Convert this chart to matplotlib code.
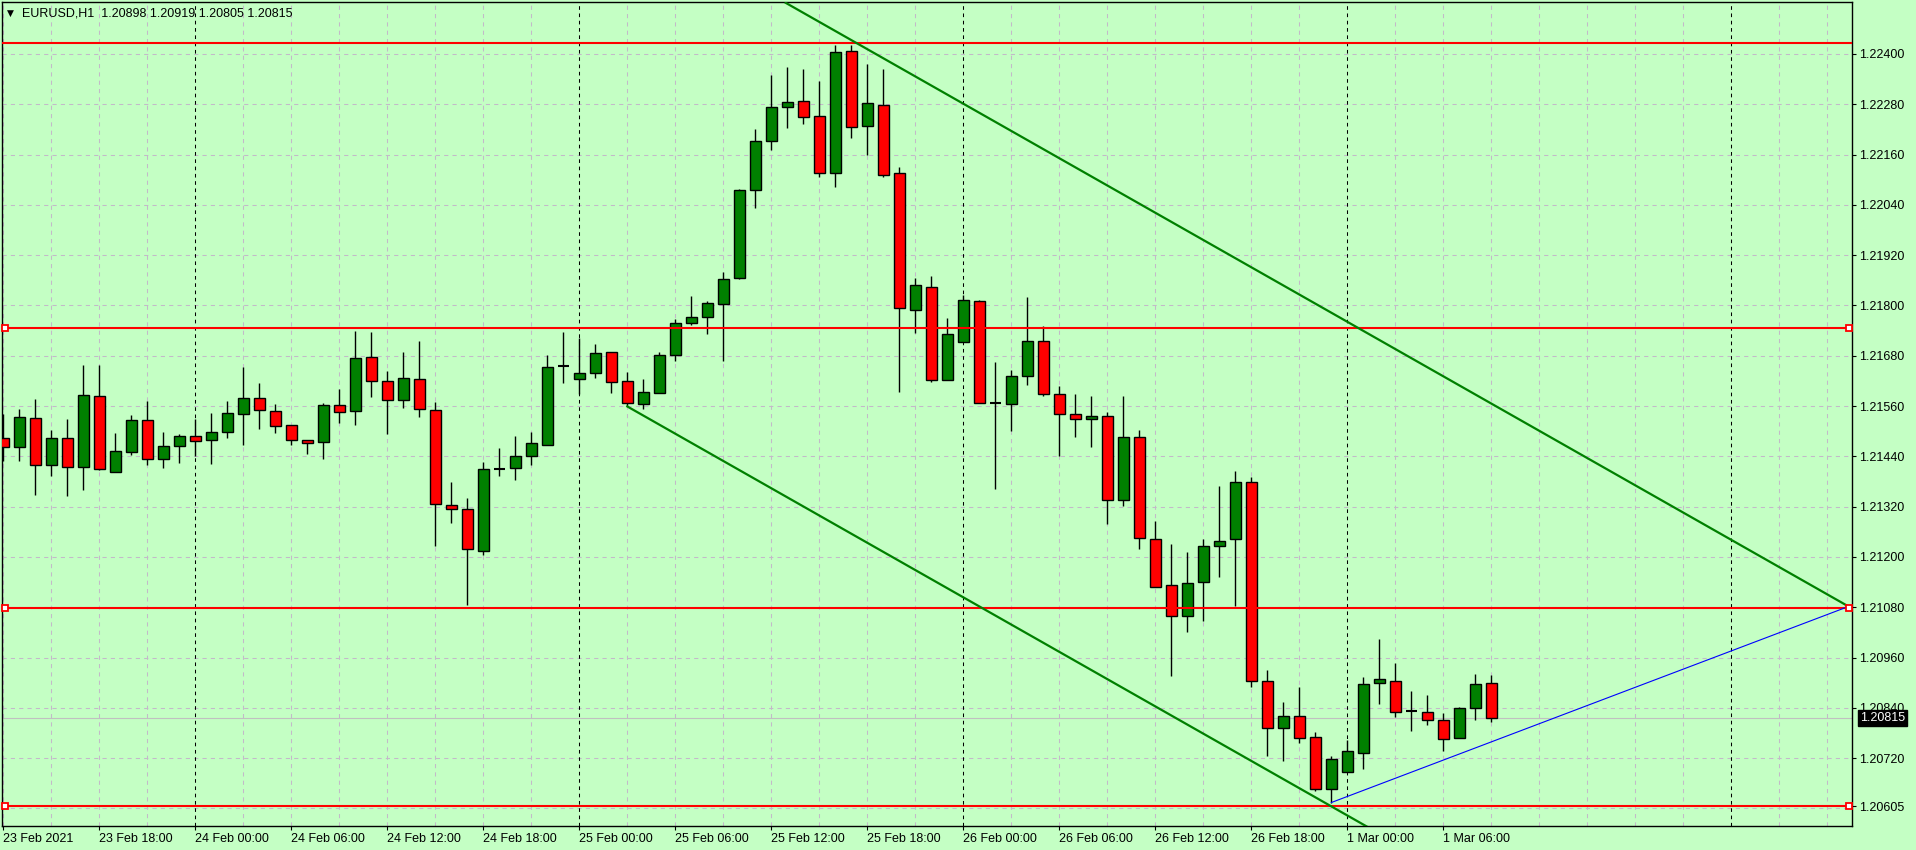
import numpy as np
import matplotlib
matplotlib.use("Agg")
import matplotlib.pyplot as plt
from matplotlib.transforms import blended_transform_factory

# ── Data (EURUSD H1, bar 0 = 23 Feb 2021 12:00) ─────────────────────────────
SYMBOL = "EURUSD,H1"
OPEN = [1.21484, 1.21463, 1.21532, 1.21420, 1.21484, 1.21415, 1.21584, 1.21403,
        1.21451, 1.21527, 1.21433, 1.21465, 1.21489, 1.21479, 1.21498, 1.21541,
        1.21580, 1.21549, 1.21515, 1.21479, 1.21475, 1.21563, 1.21549, 1.21677,
        1.21620, 1.21575, 1.21625, 1.21551, 1.21324, 1.21315, 1.21214, 1.21410,
        1.21412, 1.21441, 1.21467, 1.21656, 1.21624, 1.21639, 1.21689, 1.21620,
        1.21565, 1.21591, 1.21682, 1.21758, 1.21772, 1.21803, 1.21865, 1.22075,
        1.22192, 1.22274, 1.22288, 1.22252, 1.22116, 1.22406, 1.22229, 1.22278,
        1.22115, 1.21788, 1.21843, 1.21623, 1.21712, 1.21810, 1.21567, 1.21564,
        1.21631, 1.21716, 1.21588, 1.21540, 1.21528, 1.21537, 1.21337, 1.21485,
        1.21242, 1.21132, 1.21060, 1.21139, 1.21227, 1.21242, 1.21378, 1.20905,
        1.20793, 1.20821, 1.20771, 1.20647, 1.20688, 1.20731, 1.20898, 1.20905,
        1.20833, 1.20829, 1.20810, 1.20767, 1.20839, 1.20898]
HIGH = [1.21540, 1.21552, 1.21576, 1.21504, 1.21530, 1.21657, 1.21657, 1.21496,
        1.21539, 1.21571, 1.21499, 1.21494, 1.21528, 1.21544, 1.21572, 1.21654,
        1.21616, 1.21565, 1.21515, 1.21479, 1.21568, 1.21600, 1.21740, 1.21737,
        1.21644, 1.21689, 1.21716, 1.21570, 1.21379, 1.21341, 1.21427, 1.21460,
        1.21489, 1.21498, 1.21682, 1.21737, 1.21722, 1.21709, 1.21689, 1.21642,
        1.21625, 1.21690, 1.21768, 1.21823, 1.21811, 1.21880, 1.22078, 1.22221,
        1.22350, 1.22370, 1.22363, 1.22336, 1.22421, 1.22421, 1.22377, 1.22365,
        1.22130, 1.21865, 1.21870, 1.21771, 1.21825, 1.21812, 1.21665, 1.21646,
        1.21820, 1.21750, 1.21607, 1.21588, 1.21585, 1.21545, 1.21585, 1.21502,
        1.21286, 1.21230, 1.21211, 1.21242, 1.21370, 1.21404, 1.21390, 1.20931,
        1.20855, 1.20889, 1.20783, 1.20724, 1.20762, 1.20913, 1.21003, 1.20948,
        1.20879, 1.20870, 1.20827, 1.20841, 1.20920, 1.20919]
LOW = [1.21428, 1.21428, 1.21347, 1.21393, 1.21345, 1.21359, 1.21407, 1.21403,
       1.21443, 1.21419, 1.21412, 1.21424, 1.21440, 1.21421, 1.21483, 1.21466,
       1.21505, 1.21495, 1.21467, 1.21445, 1.21433, 1.21520, 1.21514, 1.21581,
       1.21493, 1.21555, 1.21533, 1.21226, 1.21281, 1.21086, 1.21204, 1.21393,
       1.21383, 1.21420, 1.21467, 1.21614, 1.21588, 1.21626, 1.21590, 1.21559,
       1.21552, 1.21591, 1.21667, 1.21754, 1.21731, 1.21667, 1.21863, 1.22032,
       1.22172, 1.22223, 1.22232, 1.22106, 1.22083, 1.22200, 1.22159, 1.22107,
       1.21594, 1.21735, 1.21618, 1.21623, 1.21712, 1.21568, 1.21362, 1.21501,
       1.21611, 1.21585, 1.21441, 1.21487, 1.21463, 1.21278, 1.21322, 1.21219,
       1.21129, 1.20916, 1.21022, 1.21047, 1.21153, 1.21084, 1.20890, 1.20725,
       1.20712, 1.20757, 1.20642, 1.20614, 1.20688, 1.20695, 1.20850, 1.20819,
       1.20785, 1.20800, 1.20738, 1.20767, 1.20810, 1.20805]
CLOSE = [1.21463, 1.21534, 1.21420, 1.21484, 1.21415, 1.21587, 1.21409, 1.21453,
         1.21527, 1.21433, 1.21465, 1.21489, 1.21476, 1.21498, 1.21544, 1.21580,
         1.21551, 1.21513, 1.21479, 1.21472, 1.21563, 1.21546, 1.21675, 1.21620,
         1.21575, 1.21627, 1.21553, 1.21327, 1.21315, 1.21219, 1.21410, 1.21410,
         1.21441, 1.21472, 1.21653, 1.21656, 1.21639, 1.21686, 1.21617, 1.21567,
         1.21593, 1.21682, 1.21758, 1.21772, 1.21806, 1.21863, 1.22075, 1.22192,
         1.22274, 1.22285, 1.22250, 1.22116, 1.22405, 1.22225, 1.22284, 1.22111,
         1.21793, 1.21848, 1.21623, 1.21733, 1.21812, 1.21568, 1.21567, 1.21631,
         1.21714, 1.21588, 1.21540, 1.21530, 1.21537, 1.21337, 1.21485, 1.21244,
         1.21129, 1.21060, 1.21137, 1.21227, 1.21237, 1.21378, 1.20905, 1.20793,
         1.20821, 1.20769, 1.20647, 1.20719, 1.20736, 1.20896, 1.20908, 1.20831,
         1.20833, 1.20812, 1.20765, 1.20839, 1.20896, 1.20815]

TIME_LABELS = ["23 Feb 2021", "23 Feb 18:00", "24 Feb 00:00", "24 Feb 06:00",
               "24 Feb 12:00", "24 Feb 18:00", "25 Feb 00:00", "25 Feb 06:00",
               "25 Feb 12:00", "25 Feb 18:00", "26 Feb 00:00", "26 Feb 06:00",
               "26 Feb 12:00", "26 Feb 18:00", "1 Mar 00:00", "1 Mar 06:00"]
TIME_LABEL_BARS = [0, 6, 12, 18, 24, 30, 36, 42, 48, 54, 60, 66, 72, 78, 84, 90]
DAY_BREAK_BARS = [12, 36, 60, 84, 108]

PRICE_TICKS = [1.22400, 1.22280, 1.22160, 1.22040, 1.21920, 1.21800, 1.21680,
               1.21560, 1.21440, 1.21320, 1.21200, 1.21080, 1.20960, 1.20840,
               1.20720, 1.20605]

H_LEVELS = [1.22426, 1.21747, 1.21078, 1.20605]
UPPER_TREND = ([48.9, 115.5], [1.22522, 1.21078])
LOWER_TREND = ([39, 90], [1.21559, 1.20453])
BLUE_TREND = ([83, 115.2], [1.20614, 1.21080])
LAST = (1.20898, 1.20919, 1.20805, 1.20815)

# ── Style ───────────────────────────────────────────────────────────────────
BG = "#c4ffc4"
GRID = "#c3b9c8"
BULL = "#008000"
BEAR = "#ff0000"
FONT = ["Liberation Sans", "DejaVu Sans"]
plt.rcParams["font.family"] = FONT
plt.rcParams["font.size"] = 9

W, H = 1916, 850
fig = plt.figure(figsize=(W / 100, H / 100), dpi=100, facecolor=BG)
ax = fig.add_axes([2 / W, (H - 826) / H, (1852 - 2) / W, (826 - 2) / H], facecolor=BG)

x = np.arange(len(OPEN))
o, hi, lo, c = map(np.array, (OPEN, HIGH, LOW, CLOSE))

# grid
for p in PRICE_TICKS[:-1] + [1.20600]:
    ax.axhline(p, color=GRID, lw=0.75, dashes=(4, 4), zorder=0)
for b in range(0, 116, 3):
    if b in DAY_BREAK_BARS:
        ax.axvline(b, color="black", lw=0.75, dashes=(3.5, 3.5), zorder=0.5)
    else:
        ax.axvline(b, color=GRID, lw=0.75, dashes=(4, 4), zorder=0)

# candles
up, dn, eq = c > o, c < o, c == o
ax.vlines(x, lo, hi, color="black", lw=1.0, zorder=3)
ax.bar(x[up], (c - o)[up], bottom=o[up], width=0.66, color=BULL,
       edgecolor="black", lw=1.0, zorder=4)
ax.bar(x[dn], (o - c)[dn], bottom=c[dn], width=0.66, color=BEAR,
       edgecolor="black", lw=1.0, zorder=4)
ax.hlines(o[eq], x[eq] - 0.36, x[eq] + 0.36, color="black", lw=1.5, zorder=4)

# objects
for lvl in H_LEVELS:
    ax.axhline(lvl, color="#ff0000", lw=1.5, zorder=5)
for lvl in H_LEVELS[1:]:
    ax.plot([0.1, 115.35], [lvl, lvl], ls="none", marker="s", ms=4.3,
            mfc="white", mec="#ff0000", mew=1.3, zorder=6, clip_on=False)
ax.plot(*UPPER_TREND, color="#008000", lw=1.6, zorder=5)
ax.plot(*LOWER_TREND, color="#008000", lw=1.6, zorder=5)
ax.plot(*BLUE_TREND, color="#0000ff", lw=0.8, zorder=5)
ax.axhline(LAST[3], color="#c0c0c0", lw=0.8, zorder=1)

ax.set_xlim(-0.08, 115.54)
ax.set_ylim(1.20558, 1.22524)

# axes / ticks
for s in ax.spines.values():
    s.set_color("black")
    s.set_linewidth(1.0)
ax.yaxis.tick_right()
ax.set_yticks(PRICE_TICKS, [f"{p:.5f}" for p in PRICE_TICKS])
ax.tick_params(axis="y", direction="out", length=3, width=0.8, pad=2,
               labelsize=9, colors="black")
ax.set_xticks(TIME_LABEL_BARS, TIME_LABELS)
ax.tick_params(axis="x", direction="out", length=3, width=0.8, pad=2,
               labelsize=9, colors="black")
for lab in ax.get_xticklabels():
    lab.set_ha("left")

# last price box
tr = blended_transform_factory(ax.transAxes, ax.transData)
ax.text(1.0045, LAST[3], f"{LAST[3]:.5f}", transform=tr, ha="left", va="center",
        color="white", fontsize=9, zorder=10, clip_on=False,
        bbox=dict(boxstyle="square,pad=0.15", fc="black", ec="black"))

# header
fig.text(7 / W, 1 - 13 / H, "▼", family="DejaVu Sans", fontsize=6.5,
         va="center", ha="left")
fig.text(22 / W, 1 - 13 / H,
         f"{SYMBOL}  " + " ".join(f"{v:.5f}" for v in LAST),
         fontsize=9, va="center", ha="left")

fig.savefig("out.png", dpi=100, facecolor=BG)
